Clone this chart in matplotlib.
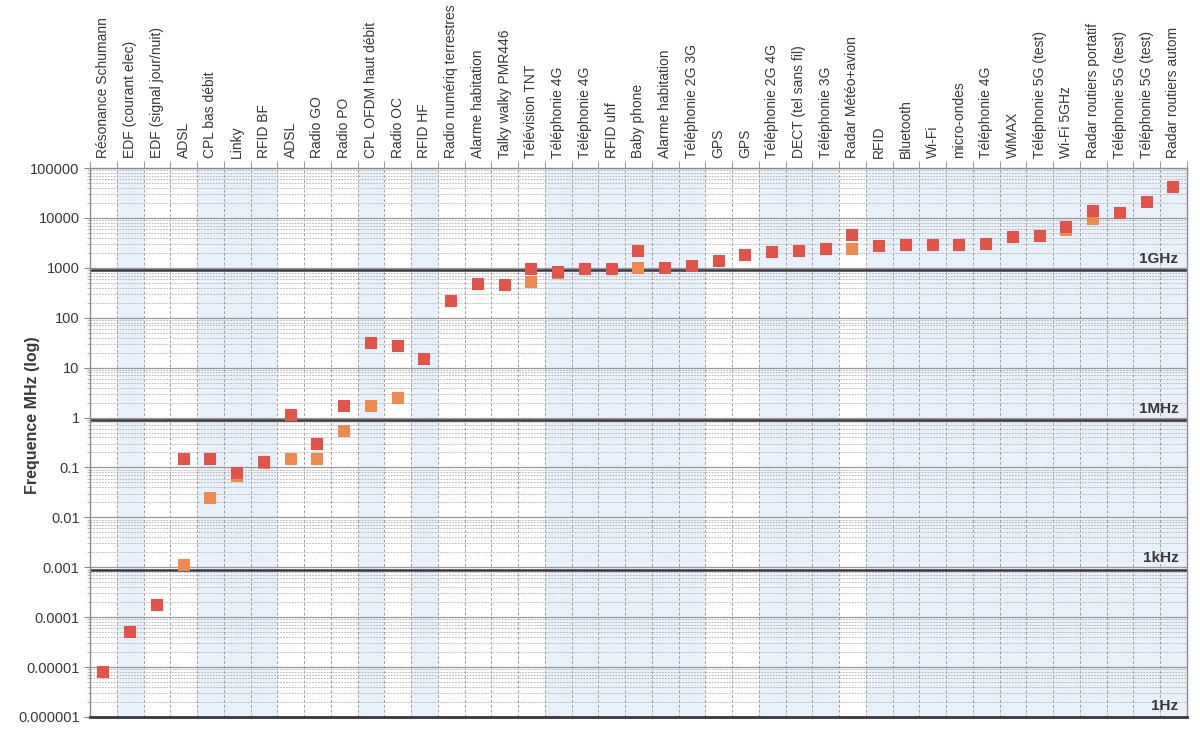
import numpy as np
import matplotlib
matplotlib.use("Agg")
import matplotlib.pyplot as plt
from matplotlib.ticker import LogLocator, NullFormatter

plt.rcParams['font.family'] = ['Liberation Sans', 'DejaVu Sans']

# sources, left to right
labels = [
    "Résonance Schumann", "EDF (courant elec)", "EDF (signal jour/nuit)", "ADSL",
    "CPL bas débit", "Linky", "RFID BF", "ADSL", "Radio GO", "Radio PO",
    "CPL OFDM haut débit", "Radio OC", "RFID HF", "Radio numériq terrestres",
    "Alarme habitation", "Talky walky PMR446", "Télévision TNT", "Téléphonie 4G",
    "Téléphonie 4G", "RFID uhf", "Baby phone", "Alarme habitation",
    "Téléphonie 2G 3G", "GPS", "GPS", "Téléphonie 2G 4G", "DECT (tel sans fil)",
    "Téléphonie 3G", "Radar Météo+avion", "RFID", "Bluetooth", "Wi-Fi",
    "micro-ondes", "Téléphonie 4G", "WiMAX", "Téléphonie 5G (test)", "Wi-Fi 5GHz",
    "Radar routiers portatif", "Téléphonie 5G (test)", "Téléphonie 5G (test)",
    "Radar routiers autom",
]

# upper frequency (MHz), red squares
f_high = [
    7.83e-6, 5e-5, 1.75e-4, 0.145, 0.15, 0.078, 0.13, 1.1, 0.3, 1.7,
    31, 27, 15, 220, 466, 446, 950, 830, 930, 950,
    2140, 1000, 1100, 1400, 1820, 2100, 2200, 2400, 4570, 2800,
    2830, 2850, 2830, 3020, 4100, 4300, 6700, 14000, 12600, 21000,
    42000,
]

# lower frequency (MHz), orange squares
nan = np.nan
f_low = [
    nan, nan, nan, 0.0011, 0.025, 0.066, 0.125, 0.15, 0.15, 0.55,
    1.7, 2.5, nan, nan, nan, nan, 520, 790, nan, nan,
    1000, nan, nan, nan, nan, nan, nan, nan, 2340, nan,
    nan, nan, nan, nan, nan, nan, 5800, 9600, nan, nan,
    nan,
]

# columns with light blue background
shaded = [1, 4, 5, 6, 10, 12, 17, 18, 19, 20, 21, 22, 25, 26, 27,
          29, 30, 31, 32, 33, 34, 35, 36, 37, 38, 39, 40]

decades = [1e-6, 1e-5, 1e-4, 1e-3, 1e-2, 1e-1, 1, 10, 100, 1000, 10000, 100000]
decade_labels = ["0.000001", "0.00001", "0.0001", "0.001", "0.01", "0.1",
                 "1", "10", "100", "1000", "10000", "100000"]

bands = [(1000, "1GHz"), (1, "1MHz"), (0.001, "1kHz"), (1e-6, "1Hz")]

n = len(labels)
x = np.arange(n)
dark = "#3b3540"

fig = plt.figure(figsize=(12, 7.35), dpi=100)
ax = fig.add_axes([0.075, 0.0245, 0.914, 0.7469])

for i in shaded:
    ax.axvspan(i - 0.5, i + 0.5, color="#e8f1f9", lw=0, zorder=0)

ax.set_yscale("log")
ax.set_ylim(1e-6, 1e5)
ax.set_xlim(-0.5, n - 0.5)

ax.set_yticks(decades)
ax.set_yticklabels(decade_labels)
ax.yaxis.set_minor_locator(LogLocator(base=10, subs=np.arange(2, 10), numticks=100))
ax.yaxis.set_minor_formatter(NullFormatter())

ax.xaxis.tick_top()
ax.set_xticks(x)
ax.set_xticklabels(labels, rotation=90, fontsize=10, color=dark)
ax.set_xticks(np.arange(n + 1) - 0.5, minor=True)

ax.tick_params(axis="x", which="major", length=0, pad=7)
ax.tick_params(axis="x", which="minor", length=5, top=True, bottom=False, color="#888888")
ax.tick_params(axis="y", which="major", labelsize=10.5, labelcolor=dark, length=4, color="#888888")
ax.tick_params(axis="y", which="minor", length=2, color="#aaaaaa")

ax.yaxis.grid(True, which="major", color="#9a9a9a", lw=0.9)
ax.yaxis.grid(True, which="minor", color="#b0b0b0", lw=0.6, ls=(0, (2, 1.5)))
ax.xaxis.grid(True, which="minor", color="#a0a0a0", lw=0.7, ls=(0, (3, 2)))
ax.xaxis.grid(False, which="major")
ax.set_axisbelow(True)

for v, name in bands:
    if v > 1e-6:
        ax.axhline(v * 0.9, color=dark, lw=1.8, zorder=2)
    ax.annotate(name, xy=(n - 0.5, v * 0.9 if v > 1e-6 else v), xytext=(-6, 3),
                textcoords="offset points", ha="right", va="bottom",
                fontsize=11, fontweight="bold", color=dark, zorder=4)

ax.scatter(x, f_low, marker="s", s=80, color="#ef8a4f", lw=0, zorder=3)
ax.scatter(x, f_high, marker="s", s=80, color="#e4534a", lw=0, zorder=3)

for side in ["left", "top", "right"]:
    ax.spines[side].set_color("#8c8c8c")
    ax.spines[side].set_linewidth(1)
ax.spines["bottom"].set_color(dark)
ax.spines["bottom"].set_linewidth(2)

ax.set_ylabel("Frequence MHz (log)", fontsize=11.5, fontweight="bold", color=dark)
ax.yaxis.set_label_coords(-0.046, 0.55)

fig.savefig("out.png", dpi=100)
